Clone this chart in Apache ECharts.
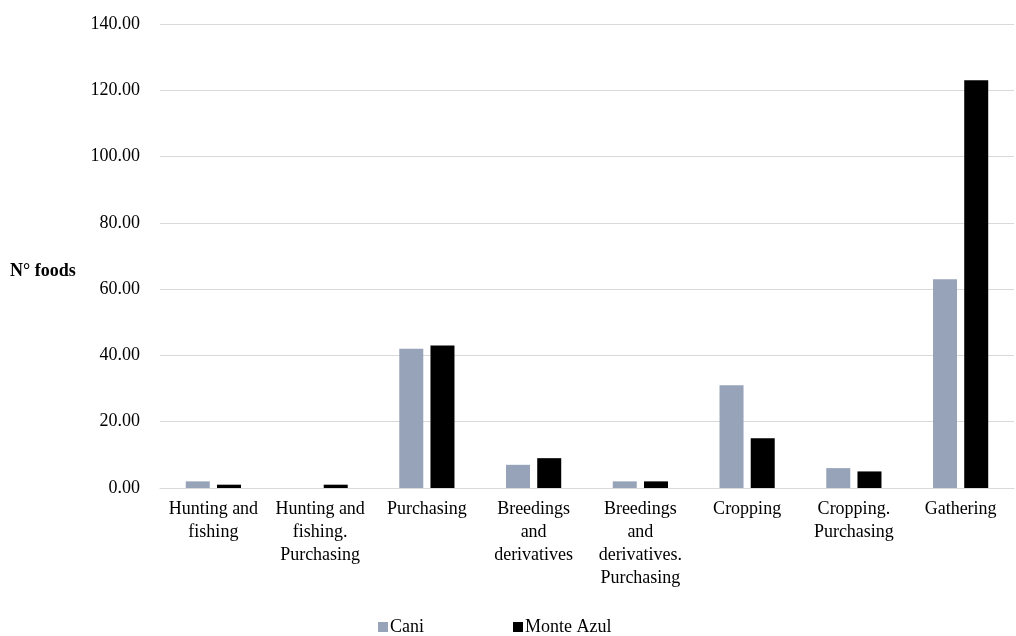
<!DOCTYPE html>
<html>
<head>
<meta charset="utf-8">
<script src="https://cdn.jsdelivr.net/npm/echarts@6/dist/echarts.min.js"></script>
<style>
  html, body { margin: 0; padding: 0; background: #fff; }
  #chart { width: 1016px; height: 636px; }
</style>
</head>
<body>
<div id="chart"></div>
<script>
const categories = [
  'Hunting and\nfishing',
  'Hunting and\nfishing.\nPurchasing',
  'Purchasing',
  'Breedings\nand\nderivatives',
  'Breedings\nand\nderivatives.\nPurchasing',
  'Cropping',
  'Cropping.\nPurchasing',
  'Gathering'
]
const cani = [2, 0, 42, 7, 2, 31, 6, 63]
const monteAzul = [1, 1, 43, 9, 2, 15, 5, 123]

const font = 'Liberation Serif, Times New Roman, serif'
const chart = echarts.init(document.getElementById('chart'), null, { renderer: 'canvas' })

const option = {
  animation: false,
  textStyle: { fontFamily: font, color: '#000' },
  grid: { left: 160, right: 2, top: 24, bottom: 148 },
  legend: {
    left: 373,
    top: 613,
    itemWidth: 10,
    itemHeight: 10,
    itemGap: 89,
    icon: 'rect',
    textStyle: { fontFamily: font, fontSize: 18, color: '#000', padding: [0, 0, 0, -3] },
    data: ['Cani', 'Monte Azul']
  },
  graphic: [{
    type: 'text',
    left: 10,
    top: 262,
    style: { text: 'N° foods', font: 'bold 18px ' + font, fill: '#000' }
  }],
  xAxis: {
    type: 'category',
    data: categories,
    axisLine: { lineStyle: { color: '#d9d9d9' } },
    axisTick: { show: false },
    axisLabel: {
      interval: 0,
      fontFamily: font,
      fontSize: 18,
      lineHeight: 23,
      color: '#000',
      margin: 10
    }
  },
  yAxis: {
    type: 'value',
    min: 0,
    max: 140,
    interval: 20,
    axisLine: { show: false },
    axisTick: { show: false },
    splitLine: { lineStyle: { color: '#d9d9d9' } },
    axisLabel: {
      fontFamily: font,
      fontSize: 18,
      color: '#000',
      margin: 20,
      formatter: v => v.toFixed(2)
    }
  },
  series: [
    {
      name: 'Cani',
      type: 'bar',
      data: cani,
      barWidth: 24,
      barGap: '30%',
      itemStyle: { color: '#97a3b8' }
    },
    {
      name: 'Monte Azul',
      type: 'bar',
      data: monteAzul,
      barWidth: 24,
      itemStyle: { color: '#000' }
    }
  ]
}

chart.setOption(option)
window.addEventListener('resize', chart.resize)
</script>
</body>
</html>
